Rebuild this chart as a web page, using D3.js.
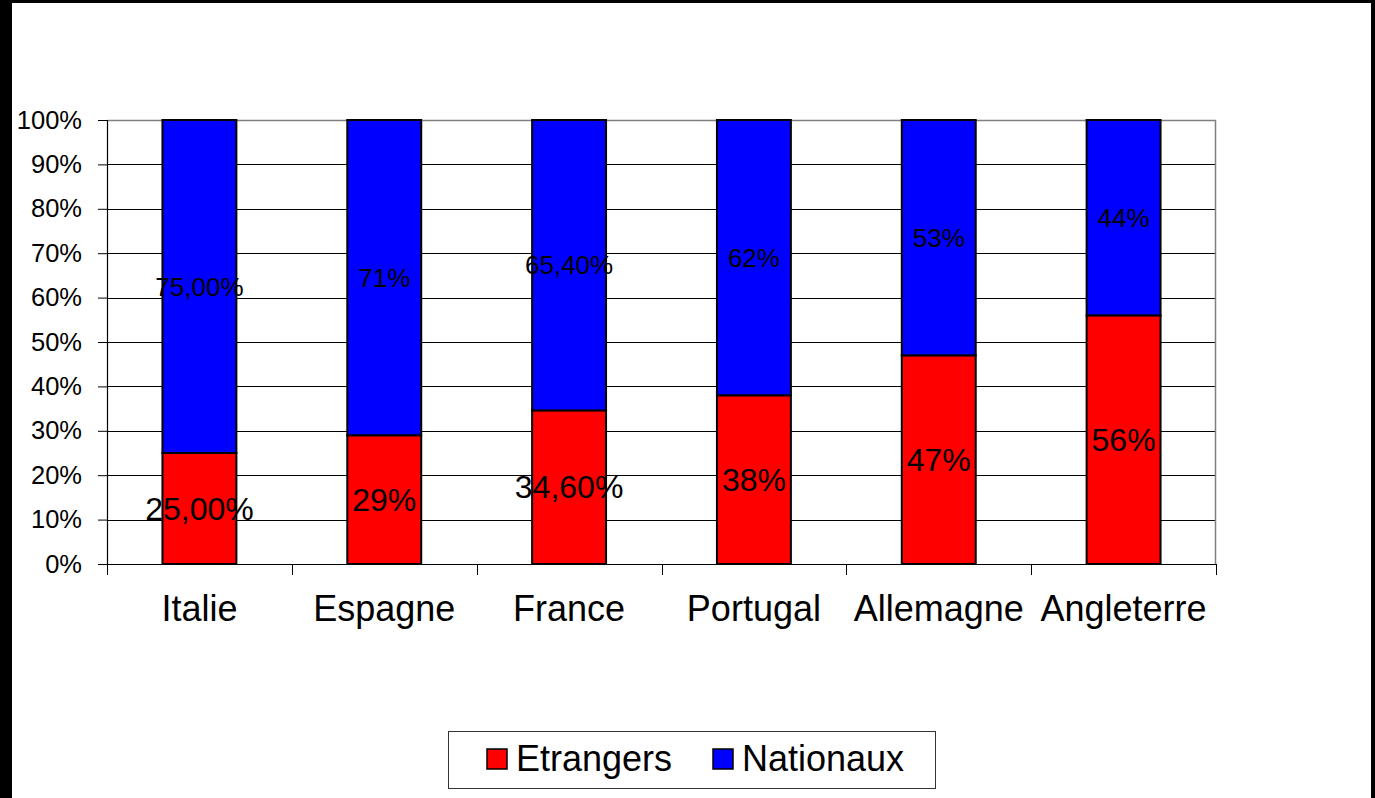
<!DOCTYPE html>
<html>
<head>
<meta charset="utf-8">
<script src="https://cdn.jsdelivr.net/npm/d3@7"></script>
<style>
  html, body { margin: 0; padding: 0; background: #fff; }
  svg { display: block; font-family: "Liberation Sans", Arial, sans-serif; }
</style>
</head>
<body>
<div id="chart"></div>
<script>
// data
const pays = ["Italie", "Espagne", "France", "Portugal", "Allemagne", "Angleterre"];
const etrangers = [25, 29, 34.6, 38, 47, 56];
const nationaux = [75, 71, 65.4, 62, 53, 44];
const etrangersLabels = ["25,00%", "29%", "34,60%", "38%", "47%", "56%"];
const nationauxLabels = ["75,00%", "71%", "65,40%", "62%", "53%", "44%"];
const yTicks = [0, 10, 20, 30, 40, 50, 60, 70, 80, 90, 100];
const seriesNames = ["Etrangers", "Nationaux"];
const seriesColors = ["#ff0000", "#0000ff"];

const W = 1375, H = 798;
let margin = {top: 120, right: 159, bottom: 234, left: 107};
let width = W - margin.left - margin.right;
let height = H - margin.top - margin.bottom;

const svg = d3.select("#chart").append("svg")
    .attr("width", W).attr("height", H);

// outer frame
svg.append("rect").attr("x", 0).attr("y", 0).attr("width", 12).attr("height", H).attr("fill", "#000");
svg.append("rect").attr("x", 0).attr("y", 0).attr("width", W).attr("height", 3).attr("fill", "#000");
svg.append("rect").attr("x", 1371).attr("y", 0).attr("width", 4).attr("height", H).attr("fill", "#000");

const g = svg.append("g").attr("transform", "translate(" + margin.left + "," + margin.top + ")");

let x = d3.scaleBand().domain(pays).range([0, width]).paddingInner(0.6).paddingOuter(0.3);
let y = d3.scaleLinear().domain([0, 100]).range([height, 0]);

// gridlines
g.selectAll(".grid").data(yTicks.filter(d => d > 0)).enter().append("line")
    .attr("x1", 0).attr("x2", width)
    .attr("y1", d => Math.round(y(d)) + 0.5).attr("y2", d => Math.round(y(d)) + 0.5)
    .attr("stroke", "#000").attr("stroke-width", 1);

// plot border (top/right)
g.append("path")
    .attr("d", "M0.5,0.5H" + (width - 0.5) + "V" + height)
    .attr("fill", "none").attr("stroke", "#808080").attr("stroke-width", 1.5);

// y axis
const yAxis = g.append("g")
    .call(d3.axisLeft(y).tickValues(yTicks).tickFormat(d => d + "%").tickSize(9).tickPadding(16));
yAxis.select(".domain").attr("stroke", "#000").attr("stroke-width", 1.2);
yAxis.selectAll(".tick line").attr("stroke", "#000");
yAxis.selectAll("text").attr("font-size", 25.5).attr("fill", "#000")
    .attr("font-family", "Liberation Sans, Arial, sans-serif");

// x axis: ticks at category boundaries
const xAxisG = g.append("g").attr("transform", "translate(0," + height + ")");
xAxisG.append("line").attr("x1", 0).attr("x2", width).attr("y1", 0.5).attr("y2", 0.5)
    .attr("stroke", "#000").attr("stroke-width", 1.2);
const bx = d3.range(pays.length + 1).map(i => i * width / pays.length);
xAxisG.selectAll(".xt").data(bx).enter().append("line")
    .attr("x1", d => Math.round(d) + 0.5).attr("x2", d => Math.round(d) + 0.5)
    .attr("y1", 0).attr("y2", 11).attr("stroke", "#000");
xAxisG.selectAll(".xl").data(pays).enter().append("text")
    .attr("x", d => x(d) + x.bandwidth() / 2)
    .attr("y", 57)
    .attr("text-anchor", "middle")
    .attr("font-size", 36)
    .attr("fill", "#000")
    .text(d => d);

// stacked bars
const rows = pays.map((p, i) => ({pays: p, Etrangers: etrangers[i], Nationaux: nationaux[i]}));
const stack = d3.stack().keys(seriesNames)(rows);
const labelSets = [etrangersLabels, nationauxLabels];
const labelSizes = [32, 26];

stack.forEach((layer, k) => {
    g.selectAll(".bar" + k).data(layer).enter().append("rect")
        .attr("x", (d, i) => x(pays[i]))
        .attr("y", d => y(d[1]))
        .attr("width", x.bandwidth())
        .attr("height", d => y(d[0]) - y(d[1]))
        .attr("fill", seriesColors[k])
        .attr("stroke", "#000")
        .attr("stroke-width", 2);
});
stack.forEach((layer, k) => {
    g.selectAll(".lab" + k).data(layer).enter().append("text")
        .attr("x", (d, i) => x(pays[i]) + x.bandwidth() / 2)
        .attr("y", d => (y(d[0]) + y(d[1])) / 2)
        .attr("dy", "0.35em")
        .attr("text-anchor", "middle")
        .attr("font-size", labelSizes[k])
        .attr("fill", "#000")
        .text((d, i) => labelSets[k][i]);
});

// legend
const legend = svg.append("g").attr("transform", "translate(448,731)");
legend.append("rect").attr("x", 0.5).attr("y", 0.5).attr("width", 487).attr("height", 57)
    .attr("fill", "#fff").attr("stroke", "#333").attr("stroke-width", 1);
const legendX = [39, 265];
seriesNames.forEach((s, k) => {
    legend.append("rect").attr("x", legendX[k]).attr("y", 18).attr("width", 20).attr("height", 20)
        .attr("fill", seriesColors[k]).attr("stroke", "#000").attr("stroke-width", 1.5);
    legend.append("text").attr("x", legendX[k] + 29).attr("y", 40)
        .attr("font-size", 36).attr("fill", "#000").text(s);
});
</script>
</body>
</html>
